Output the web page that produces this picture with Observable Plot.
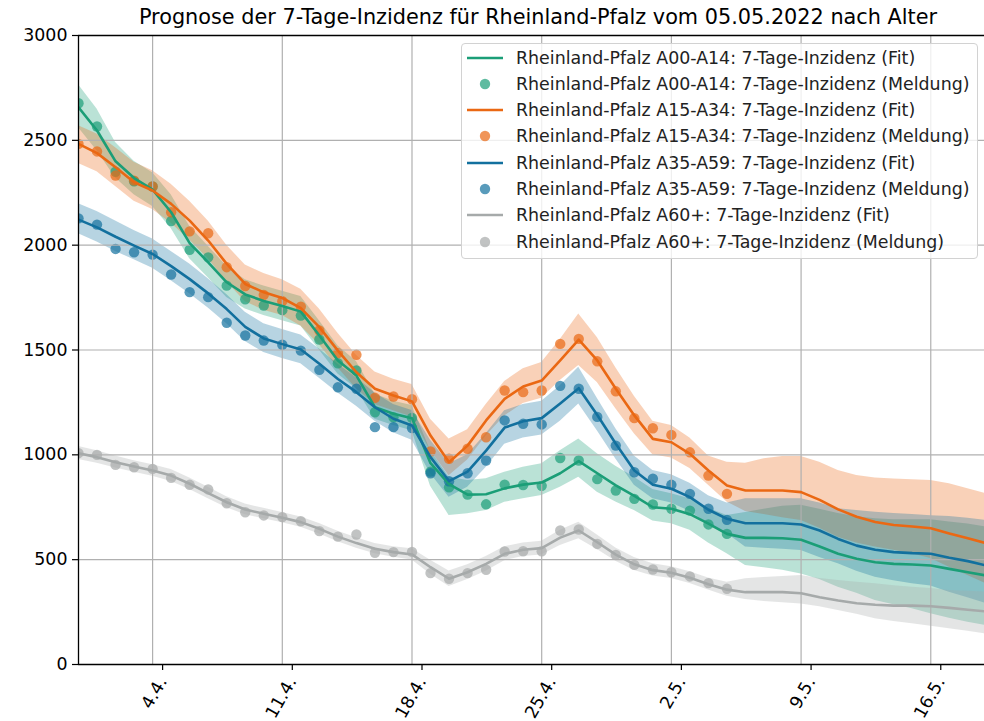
<!DOCTYPE html>
<html>
<head>
<meta charset="utf-8">
<script src="https://cdn.jsdelivr.net/npm/d3@7"></script>
<script src="https://cdn.jsdelivr.net/npm/@observablehq/plot@0.6"></script>
<style>
  body { margin: 0; background: #fff; font-family: "DejaVu Sans", sans-serif; }
  #wrap { position: relative; width: 984px; height: 721px; overflow: hidden; }
  #title { position: absolute; left: 78px; width: 920px; top: 7px; text-align: center; font-size: 20.8px; line-height: 1; color: #000; white-space: nowrap; }
  #chart { position: absolute; left: 0; top: 0; }
  #legend { position: absolute; left: 461px; top: 43px; width: 517px; height: 216px; box-sizing: border-box;
            border: 1px solid #d2d2d2; border-radius: 4px; background: rgba(255,255,255,0.8); }
  .row { position: absolute; left: 0; width: 100%; height: 26px; }
  .row svg { position: absolute; left: 0; top: 0; }
  .row span { position: absolute; left: 54px; top: 0; line-height: 26px; font-size: 17.4px; color: #222; white-space: nowrap; }
</style>
</head>
<body>
<div id="wrap">
  <div id="chart"></div>
  <div id="title">Prognose der 7-Tage-Inzidenz für Rheinland-Pfalz vom 05.05.2022 nach Alter</div>
  <div id="legend"></div>
</div>
<script>
// ---------- data ----------
const startDate = "2022-03-31";
const endDate = "2022-05-20"; // exclusive, 50 days of fit (31.3. - 19.5.)
const xTickDates = ["2022-04-04", "2022-04-11", "2022-04-18", "2022-04-25", "2022-05-02", "2022-05-09", "2022-05-16"];
const yTicks = [0, 500, 1000, 1500, 2000, 2500, 3000];

const seriesNames = ["Rheinland-Pfalz A00-A14", "Rheinland-Pfalz A15-A34", "Rheinland-Pfalz A35-A59", "Rheinland-Pfalz A60+"];
const seriesColors = ["#1b9e77", "#ea6813", "#12709e", "#a6aaaa"];

// observed (Meldung), 31.3. - 5.5.
const obsA00 = [2677, 2566, 2350, 2305, 2280, 2115, 1978, 1942, 1807, 1742, 1712, 1690, 1664, 1550, 1437, 1402, 1203, 1179, 1176, 920, 845, 810, 764, 858, 856, 852, 985, 973, 884, 830, 790, 763, 743, 734, 668, 623];
const obsA15 = [2483, 2447, 2332, 2308, 2280, 2157, 2066, 2057, 1895, 1805, 1763, 1733, 1707, 1593, 1485, 1477, 1272, 1278, 1265, 1016, 981, 1029, 1084, 1307, 1299, 1307, 1529, 1553, 1446, 1303, 1175, 1127, 1095, 1012, 901, 814];
const obsA35 = [2128, 2098, 1982, 1966, 1955, 1860, 1776, 1752, 1630, 1569, 1545, 1525, 1497, 1405, 1322, 1315, 1132, 1132, 1128, 912, 874, 912, 973, 1164, 1148, 1145, 1329, 1315, 1181, 1044, 917, 886, 857, 814, 743, 690];
const obsA60 = [1008, 1000, 952, 941, 933, 890, 857, 835, 769, 726, 711, 703, 683, 636, 610, 620, 533, 536, 537, 436, 409, 436, 452, 539, 540, 540, 639, 644, 575, 523, 475, 453, 440, 420, 388, 361];

// fit with lower / upper band, 31.3. - 19.5.
const fitA00 = [2658, 2547, 2400, 2320, 2265, 2157, 2010, 1918, 1823, 1765, 1734, 1710, 1683, 1569, 1450, 1378, 1227, 1196, 1175, 960, 860, 810, 812, 840, 858, 868, 912, 970, 912, 854, 804, 750, 743, 717, 672, 623, 604, 604, 602, 595, 563, 528, 504, 488, 480, 477, 472, 456, 440, 424];
const loA00  = [2560, 2450, 2320, 2240, 2185, 2080, 1935, 1845, 1750, 1695, 1665, 1640, 1615, 1500, 1385, 1315, 1170, 1140, 1115, 850, 711, 719, 734, 774, 790, 806, 845, 893, 822, 775, 734, 685, 671, 640, 580, 528, 472, 462, 450, 432, 405, 369, 340, 305, 285, 266, 242, 220, 202, 186];
const hiA00  = [2765, 2650, 2490, 2400, 2345, 2240, 2090, 1995, 1900, 1835, 1805, 1780, 1755, 1640, 1520, 1445, 1290, 1255, 1235, 1020, 893, 877, 886, 917, 941, 957, 1020, 1076, 1005, 945, 893, 835, 814, 790, 745, 711, 725, 740, 755, 760, 740, 720, 705, 695, 690, 690, 690, 680, 670, 655];

const fitA15 = [2483, 2439, 2372, 2300, 2261, 2197, 2117, 2022, 1911, 1815, 1775, 1748, 1700, 1609, 1497, 1394, 1315, 1283, 1255, 1092, 965, 1044, 1164, 1267, 1326, 1354, 1450, 1549, 1450, 1315, 1188, 1076, 1060, 1005, 925, 854, 830, 830, 830, 822, 785, 740, 705, 680, 665, 658, 650, 625, 602, 578];
const loA15  = [2390, 2350, 2280, 2210, 2170, 2105, 2025, 1935, 1825, 1730, 1690, 1665, 1615, 1525, 1415, 1315, 1240, 1210, 1180, 1020, 900, 975, 1090, 1185, 1245, 1270, 1355, 1426, 1345, 1220, 1100, 1000, 985, 935, 855, 775, 730, 715, 700, 687, 650, 607, 580, 560, 545, 528, 505, 464, 425, 385];
const hiA15  = [2570, 2530, 2465, 2395, 2355, 2290, 2210, 2115, 2000, 1905, 1865, 1835, 1790, 1695, 1580, 1475, 1395, 1360, 1335, 1170, 1076, 1120, 1240, 1350, 1410, 1440, 1550, 1672, 1560, 1415, 1280, 1160, 1140, 1080, 995, 965, 960, 981, 992, 992, 965, 925, 901, 890, 885, 881, 878, 862, 838, 814];

const fitA35 = [2122, 2085, 2040, 1998, 1958, 1900, 1838, 1770, 1695, 1610, 1555, 1528, 1502, 1434, 1362, 1299, 1227, 1172, 1140, 989, 875, 920, 1020, 1130, 1160, 1175, 1245, 1318, 1190, 1053, 925, 857, 838, 798, 738, 695, 674, 674, 674, 668, 639, 599, 567, 547, 536, 531, 528, 509, 493, 472];
const loA35  = [2054, 2015, 1970, 1930, 1890, 1830, 1768, 1700, 1625, 1540, 1488, 1460, 1435, 1365, 1295, 1232, 1160, 1105, 1070, 910, 798, 845, 940, 1050, 1080, 1095, 1160, 1243, 1115, 980, 855, 790, 770, 730, 670, 625, 560, 555, 550, 544, 510, 480, 445, 416, 400, 385, 375, 345, 318, 290];
const hiA35  = [2197, 2160, 2115, 2070, 2030, 1970, 1910, 1840, 1765, 1680, 1625, 1598, 1572, 1505, 1432, 1368, 1295, 1240, 1212, 1070, 957, 1000, 1100, 1210, 1240, 1255, 1330, 1418, 1270, 1125, 995, 925, 905, 865, 805, 770, 790, 790, 790, 790, 770, 743, 735, 726, 720, 715, 710, 706, 697, 687];

const fitA60 = [1008, 989, 965, 944, 925, 901, 862, 817, 774, 739, 719, 700, 679, 647, 610, 579, 552, 536, 525, 464, 409, 440, 480, 528, 547, 555, 605, 639, 583, 524, 478, 450, 438, 414, 383, 357, 345, 345, 345, 340, 321, 305, 292, 285, 281, 281, 278, 270, 261, 253];
const loA60  = [978, 960, 937, 917, 898, 873, 835, 790, 748, 714, 695, 676, 655, 622, 586, 555, 528, 511, 498, 430, 372, 405, 445, 495, 515, 522, 568, 600, 548, 492, 448, 422, 410, 386, 355, 325, 310, 300, 295, 289, 275, 258, 240, 218, 205, 194, 182, 170, 158, 146];
const hiA60  = [1040, 1020, 995, 972, 953, 930, 890, 845, 800, 765, 745, 725, 703, 672, 636, 605, 577, 562, 552, 497, 446, 476, 515, 562, 580, 588, 640, 679, 618, 556, 510, 480, 466, 442, 412, 392, 409, 415, 420, 424, 410, 401, 392, 385, 376, 369, 362, 353, 349, 345];

// ---------- build tables ----------
const dates = d3.utcDays(new Date(startDate), new Date(endDate));
const fits = [[fitA00, loA00, hiA00], [fitA15, loA15, hiA15], [fitA35, loA35, hiA35], [fitA60, loA60, hiA60]];
const obs = [obsA00, obsA15, obsA35, obsA60];

const fitRows = fits.map(([f, lo, hi], s) => dates.map((d, i) => ({date: d, fit: f[i], lo: lo[i], hi: hi[i], s})));
const obsRows = obs.map((o, s) => o.map((v, i) => ({date: dates[i], v, s})));

const xDomain = [new Date(startDate), new Date(Date.UTC(2022, 4, 18, 21, 36))];
const tickDates = xTickDates.map(d => new Date(d));
const fmt = d => `${d.getUTCDate()}.${d.getUTCMonth() + 1}.`;

const marks = [];
// bands
fitRows.forEach((rows, s) => {
  marks.push(Plot.areaY(rows, {x: "date", y1: "lo", y2: "hi", fill: seriesColors[s], fillOpacity: 0.3, clip: true}));
});
// observed dots
obsRows.forEach((rows, s) => {
  marks.push(Plot.dot(rows, {x: "date", y: "v", r: 5.2, fill: seriesColors[s], fillOpacity: 0.7, stroke: "none", clip: true}));
});
// grid
marks.push(Plot.gridX({ticks: tickDates, stroke: "#b0b0b0", strokeOpacity: 1, strokeWidth: 1.2}));
marks.push(Plot.gridY({ticks: yTicks, stroke: "#b0b0b0", strokeOpacity: 1, strokeWidth: 1.2}));
// fit lines
fitRows.forEach((rows, s) => {
  marks.push(Plot.lineY(rows, {x: "date", y: "fit", stroke: seriesColors[s], strokeWidth: 2.6, clip: true}));
});
// spines
marks.push(Plot.ruleY([0, 3000], {stroke: "#000", strokeWidth: 1.3}));
marks.push(Plot.ruleX([xDomain[0]], {stroke: "#000", strokeWidth: 1.3}));
// axes
marks.push(Plot.axisY({ticks: yTicks, tickSize: 6, tickPadding: 5, tickFormat: d => String(d), label: null, fontSize: 17.4, strokeWidth: 1.2}));
marks.push(Plot.axisX({ticks: tickDates, tickSize: 6, tickPadding: 8, tickFormat: fmt, tickRotate: -60,
  textAnchor: "end", lineAnchor: "middle", dx: 10, label: null, fontSize: 17.4, strokeWidth: 1.2}));

const chart = Plot.plot({
  width: 984,
  height: 721,
  marginLeft: 78,
  marginRight: 0,
  marginTop: 35,
  marginBottom: 57,
  style: {fontFamily: "DejaVu Sans", fontSize: "17.4px", color: "#000", background: "transparent", overflow: "visible"},
  x: {type: "utc", domain: xDomain},
  y: {domain: [0, 3000]},
  marks
});
document.getElementById("chart").appendChild(chart);

// ---------- legend ----------
const legend = document.getElementById("legend");
const entries = [];
seriesNames.forEach((n, s) => {
  entries.push({label: `${n}: 7-Tage-Inzidenz (Fit)`, s, kind: "line"});
  entries.push({label: `${n}: 7-Tage-Inzidenz (Meldung)`, s, kind: "dot"});
});
entries.forEach((e, i) => {
  const row = document.createElement("div");
  row.className = "row";
  row.style.top = (0.5 + i * 26.3) + "px";
  const icon = e.kind === "line"
    ? `<line x1="5" x2="41" y1="13" y2="13" stroke="${seriesColors[e.s]}" stroke-width="2.6"/>`
    : `<circle cx="23" cy="13" r="5.2" fill="${seriesColors[e.s]}" fill-opacity="0.7"/>`;
  row.innerHTML = `<svg width="50" height="26">${icon}</svg><span>${e.label}</span>`;
  legend.appendChild(row);
});
</script>
</body>
</html>
